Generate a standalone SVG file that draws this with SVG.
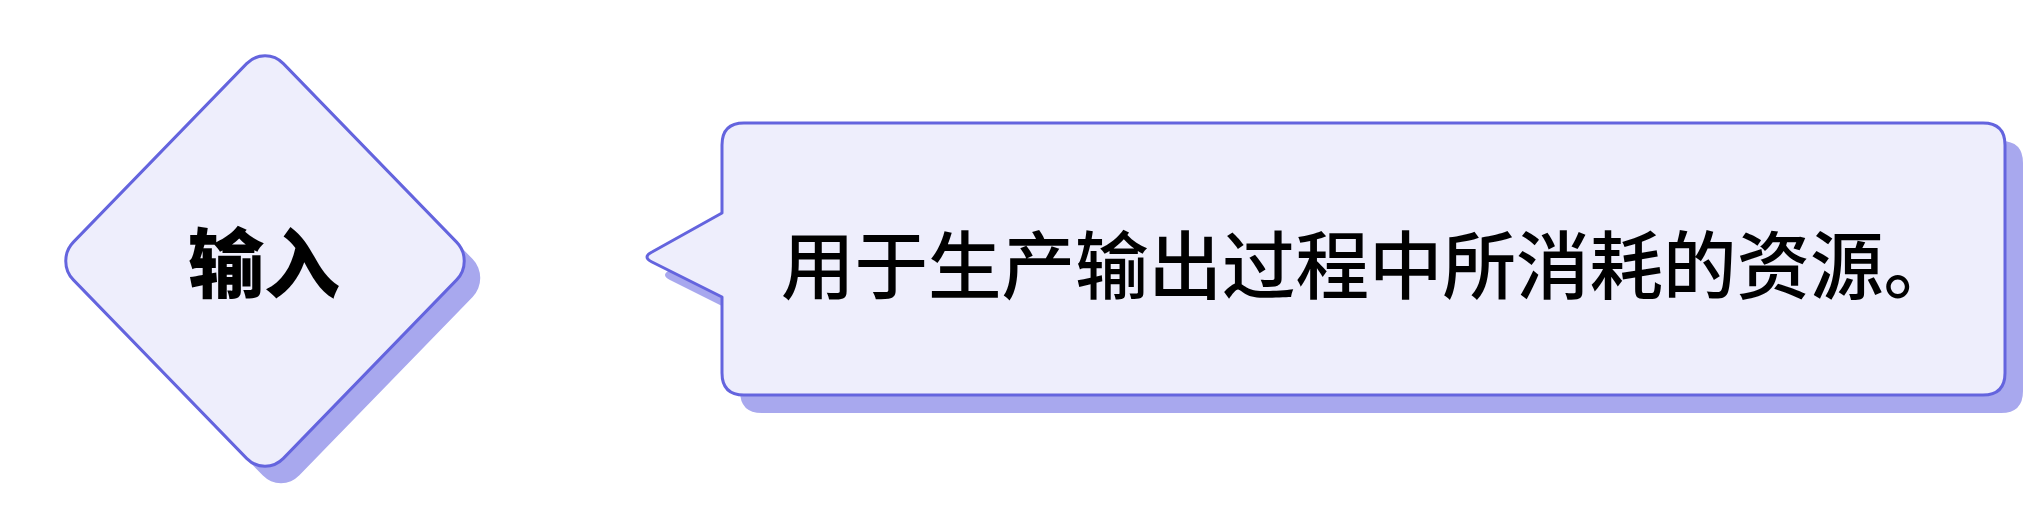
<svg xmlns="http://www.w3.org/2000/svg" width="2040" height="512" viewBox="0 0 2040 512">
  <style>
    .shape { fill: #eeeefc; stroke: #6464de; stroke-width: 3; stroke-linejoin: round; }
    .shadow { fill: #a8a8ee; stroke: none; }
    .label { font-family: "Noto Sans CJK SC", "Noto Sans", sans-serif; fill: #000000; }
  </style>
  <defs>
    <path id="calloutShape" d="M744,123 H1983 Q2005,123 2005,145 V373 Q2005,395 1983,395 H744 Q722,395 722,373 V297 L652,262 Q642,257 652,252 L722,213 V145 Q722,123 744,123 Z"/>
  </defs>
  <rect width="2040" height="512" fill="#ffffff"/>
  <g id="connectors"></g>
  <g id="node-input">
    <g transform="translate(281,278) scale(1,1.03) rotate(45)">
      <rect class="shadow" x="-148.5" y="-148.5" width="297" height="297" rx="26"/>
    </g>
    <g transform="translate(265,261) scale(1,1.03) rotate(45)">
      <rect class="shape" x="-148.5" y="-148.5" width="297" height="297" rx="26"/>
    </g>
    <text class="label" x="264" y="292" font-size="76" font-weight="900" text-anchor="middle">输入</text>
  </g>
  <g id="node-description">
    <use href="#calloutShape" class="shadow" transform="translate(18,18)"/>
    <use href="#calloutShape" class="shape"/>
    <text class="label" x="781" y="293" font-size="73.5" font-weight="500">用于生产输出过程中所消耗的资源。</text>
  </g>
</svg>
